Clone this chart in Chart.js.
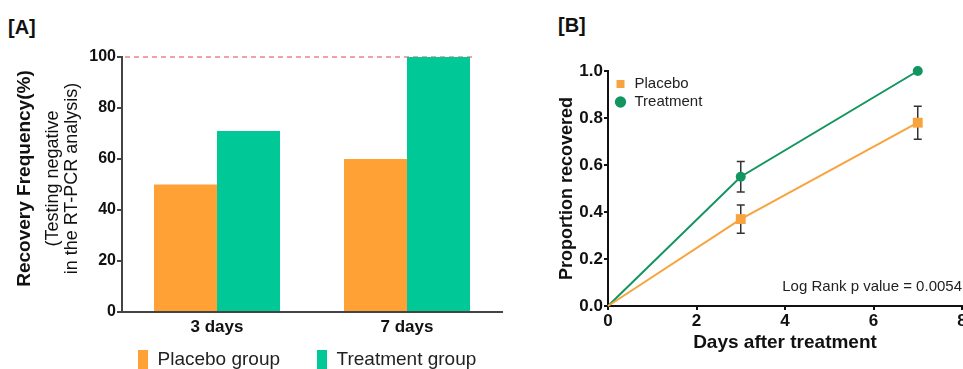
<!DOCTYPE html>
<html>
<head>
<meta charset="utf-8">
<script src="https://cdn.jsdelivr.net/npm/chart.js@4.4.1/dist/chart.umd.min.js"></script>
<style>
html, body { margin:0; padding:0; background:#fff; overflow:hidden; width:963px; height:369px; }
.panel-label { position:absolute; font:bold 20px "Liberation Sans", Arial, sans-serif; color:#111; line-height:20px; }
#boxA { position:absolute; left:0; top:0; width:510px; height:409px; }
#boxB { position:absolute; left:520px; top:0; width:443px; height:369px; }
</style>
</head>
<body>
<div class="panel-label" style="left:8px; top:17px;">[A]</div>
<div class="panel-label" style="left:558px; top:15px;">[B]</div>
<div id="boxA"><canvas id="recoveryBarChart"></canvas></div>
<div id="boxB"><canvas id="recoveryLineChart"></canvas></div>
<script>
// panel A data
const categories = ["3 days", "7 days"]
const placeboRate = [50, 60]
const treatmentRate = [71, 100]
const refLineValue = 100
const yTitleLines = ["Recovery Frequency(%)", "(Testing negative", "in the RT-PCR analysis)"]

// panel B data
const days = [0, 3, 7]
const placeboProp = [0, 0.37, 0.78]
const placeboLow = [null, 0.31, 0.71]
const placeboHigh = [null, 0.43, 0.85]
const treatProp = [0, 0.55, 1.0]
const treatLow = [null, 0.485, null]
const treatHigh = [null, 0.615, null]
const noteText = "Log Rank p value = 0.0054"

const FONT = '"Liberation Sans", Arial, sans-serif'
Chart.defaults.font.family = FONT
Chart.defaults.color = "#111"

const orangeBar = "#FFA134"
const greenBar = "#00C896"
const orangeLine = "#F8A43E"
const greenLine = "#13955F"

// moves the legend box to a spot given relative to the chart area
const legendPlacePlugin = {
    id: "legendPlace",
    afterLayout(chart, args, opts) {
        const lg = chart.legend
        if (!lg) return
        const dx = chart.chartArea.left + opts.x - lg.left
        const dy = chart.chartArea.top + opts.y - lg.top
        lg.left += dx; lg.right += dx
        lg.top += dy; lg.bottom += dy
    }
}

// dashed 100% reference line in panel A
const refLinePlugin = {
    id: "refLine",
    beforeDatasetsDraw(chart) {
        const {ctx, chartArea, scales} = chart
        const y = scales.y.getPixelForValue(refLineValue)
        const lastBar = chart.getDatasetMeta(1).data[1]
        ctx.save()
        ctx.strokeStyle = "#F08484"
        ctx.lineWidth = 1.5
        ctx.setLineDash([5, 4])
        ctx.beginPath()
        ctx.moveTo(chartArea.left + 3, y)
        ctx.lineTo(lastBar.x + lastBar.width / 2 + 4, y)
        ctx.stroke()
        ctx.restore()
    }
}

// three line y title, first line bold
const yTitlePlugin = {
    id: "yTitleLines",
    afterDraw(chart) {
        const {ctx, chartArea} = chart
        const midY = (chartArea.top + chartArea.bottom) / 2 - 6
        const styles = [
            ["bold 19px " + FONT, 30],
            ["18px " + FONT, 58],
            ["18px " + FONT, 77]
        ]
        ctx.save()
        ctx.fillStyle = "#111"
        ctx.textAlign = "center"
        ctx.textBaseline = "alphabetic"
        yTitleLines.forEach((line, i) => {
            ctx.save()
            ctx.font = styles[i][0]
            ctx.translate(styles[i][1], midY)
            ctx.rotate(-Math.PI / 2)
            ctx.fillText(line, 0, 0)
            ctx.restore()
        })
        ctx.restore()
    }
}

// error bars for panel B
const errorBarPlugin = {
    id: "errorBars",
    beforeDatasetsDraw(chart) {
        const {ctx, scales} = chart
        const ranges = [[placeboLow, placeboHigh], [treatLow, treatHigh]]
        ctx.save()
        ctx.strokeStyle = "#333"
        ctx.lineWidth = 1.5
        ranges.forEach(([lo, hi]) => {
            days.forEach((d, i) => {
                if (lo[i] == null) return
                const px = scales.x.getPixelForValue(d)
                const y1 = scales.y.getPixelForValue(lo[i])
                const y2 = scales.y.getPixelForValue(hi[i])
                ctx.beginPath()
                ctx.moveTo(px, y1); ctx.lineTo(px, y2)
                ctx.moveTo(px - 4, y1); ctx.lineTo(px + 4, y1)
                ctx.moveTo(px - 4, y2); ctx.lineTo(px + 4, y2)
                ctx.stroke()
            })
        })
        ctx.restore()
    }
}

const noteTextPlugin = {
    id: "noteText",
    afterDraw(chart) {
        const {ctx, chartArea} = chart
        ctx.save()
        ctx.font = "15px " + FONT
        ctx.fillStyle = "#222"
        ctx.textAlign = "right"
        ctx.textBaseline = "middle"
        ctx.fillText(noteText, chartArea.right, chartArea.bottom - 19)
        ctx.restore()
    }
}

function createBarChart() {
    new Chart(document.getElementById("recoveryBarChart"), {
        type: "bar",
        data: {
            labels: categories,
            datasets: [
                {label: "Placebo group", data: placeboRate, backgroundColor: orangeBar},
                {label: "Treatment group", data: treatmentRate, backgroundColor: greenBar}
            ]
        },
        options: {
            responsive: true,
            maintainAspectRatio: false,
            animation: false,
            categoryPercentage: 0.663,
            barPercentage: 1,
            layout: {padding: {top: 57, left: 20, right: 8, bottom: 0}},
            plugins: {
                tooltip: {enabled: false},
                legendPlace: {x: -21, y: 256},
                legend: {
                    position: "bottom",
                    align: "start",
                    labels: {
                        boxWidth: 10,
                        boxHeight: 20,
                        padding: 37,
                        color: "#222",
                        font: {size: 19}
                    }
                }
            },
            scales: {
                x: {
                    afterFit: s => { s.height = 30 },
                    grid: {drawOnChartArea: false, drawTicks: false},
                    border: {color: "#444", width: 2},
                    ticks: {padding: 5, color: "#111", font: {size: 17, weight: "bold"}}
                },
                y: {
                    min: 0,
                    max: 100,
                    afterFit: s => { s.width = 102 },
                    ticks: {stepSize: 20, padding: 1, color: "#111", font: {size: 16, weight: "bold"}},
                    grid: {drawOnChartArea: false, tickLength: 5, color: "#444", lineWidth: 2},
                    border: {color: "#444", width: 2}
                }
            }
        },
        plugins: [legendPlacePlugin, refLinePlugin, yTitlePlugin]
    })
}

function createLineChart() {
    new Chart(document.getElementById("recoveryLineChart"), {
        type: "line",
        data: {
            datasets: [
                {
                    label: "Placebo",
                    data: days.map((d, i) => ({x: d, y: placeboProp[i]})),
                    borderColor: orangeLine,
                    backgroundColor: orangeLine,
                    borderWidth: 2,
                    pointStyle: "rect",
                    pointRadius: [0, 7, 7],
                    pointBorderWidth: 0,
                    clip: false
                },
                {
                    label: "Treatment",
                    data: days.map((d, i) => ({x: d, y: treatProp[i]})),
                    borderColor: greenLine,
                    backgroundColor: greenLine,
                    borderWidth: 2,
                    pointStyle: "circle",
                    pointRadius: [0, 5, 5],
                    pointBorderWidth: 0,
                    clip: false
                }
            ]
        },
        options: {
            responsive: true,
            maintainAspectRatio: false,
            animation: false,
            layout: {autoPadding: false, padding: {top: 71, left: 0, right: 1, bottom: 0}},
            plugins: {
                tooltip: {enabled: false},
                legendPlace: {x: 3, y: 2.5},
                legend: {
                    position: "chartArea",
                    align: "start",
                    labels: {
                        usePointStyle: true,
                        boxWidth: 13,
                        boxHeight: 8,
                        padding: 3,
                        color: "#222",
                        font: {size: 15}
                    }
                }
            },
            scales: {
                x: {
                    type: "linear",
                    min: 0,
                    max: 8,
                    afterFit: s => { s.height = 63; s.paddingLeft = 0; s.paddingRight = 0 },
                    ticks: {stepSize: 2, padding: 1, color: "#111", font: {size: 17, weight: "bold"}},
                    grid: {drawOnChartArea: false, tickLength: 4, color: "#111", lineWidth: 2},
                    border: {color: "#111", width: 2},
                    title: {display: true, text: "Days after treatment", color: "#111",
                        font: {size: 19, weight: "bold"}, padding: {top: 0, bottom: 15}}
                },
                y: {
                    min: 0,
                    max: 1,
                    afterFit: s => { s.width = 88 },
                    ticks: {stepSize: 0.2, padding: 1, color: "#111", font: {size: 17, weight: "bold"},
                        callback: v => v.toFixed(1)},
                    grid: {drawOnChartArea: false, tickLength: 4, color: "#111", lineWidth: 2},
                    border: {color: "#111", width: 2},
                    title: {display: true, text: "Proportion recovered", color: "#111",
                        font: {size: 18, weight: "bold"}, padding: {top: 36, bottom: 0}}
                }
            }
        },
        plugins: [legendPlacePlugin, errorBarPlugin, noteTextPlugin]
    })
}

createBarChart()
createLineChart()
</script>
</body>
</html>
